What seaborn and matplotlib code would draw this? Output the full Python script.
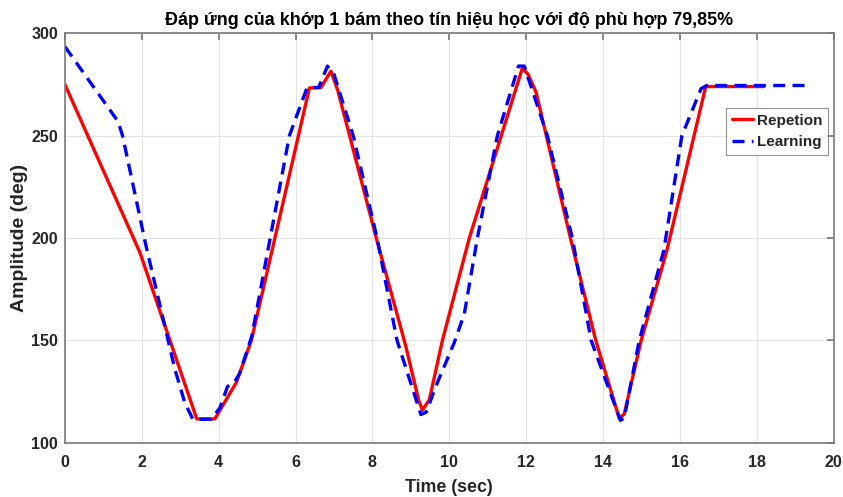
import numpy as np
import pandas as pd
import matplotlib
matplotlib.use("Agg")
import matplotlib.pyplot as plt
import seaborn as sns

# Repetion (red solid)
rep_t = [0, 1.95, 3.43, 3.9, 4.46, 4.85, 6.36, 6.66, 6.92, 7.1, 8.1, 8.87, 9.2, 9.3,
         9.48, 9.82, 10.52, 11.9, 12.05, 12.26, 13.15, 13.81, 14.42, 14.55, 14.99, 15.66,
         16.67, 18.18]
rep_y = [275, 193, 111.7, 111.7, 129.5, 150, 273.3, 273.5, 281.5, 272, 200, 147, 121, 116,
         121, 150, 200, 283, 280, 271, 200, 150, 112, 114, 150, 194,
         274, 274]

# Learning (blue dashed)
learn_t = [0, 1.38, 1.5, 2.1, 2.86, 3.12, 3.33, 3.8, 4.03, 4.23, 4.42, 4.55, 4.86, 5.84,
           6.3, 6.6, 6.83, 7.0, 7.5, 8.12, 8.64, 9.26, 9.4, 9.65, 10.13, 10.39, 10.73,
           11.25, 11.8, 11.95, 12.55, 13.2, 13.69, 14.45, 14.55, 14.94, 15.58, 16.05,
           16.55, 16.7, 19.4]
learn_y = [293.5, 257, 250, 197, 136, 119.5, 111.5, 111.5, 117, 127.5, 130, 134, 152, 250,
           273.5, 273.5, 284, 280, 250, 200, 150, 113.8, 115, 127.6, 149, 163, 200,
           250, 284, 284, 250, 200, 150, 111, 112, 150, 194, 250,
           273, 274.5, 274.5]

x_ticks = list(range(0, 21, 2))
y_ticks = [100, 150, 200, 250, 300]

sns.set_theme(style="whitegrid")
plt.rcParams['font.family'] = ['Liberation Sans', 'DejaVu Sans']
plt.rcParams.update({
    'axes.edgecolor': '#7a7a7a',
    'grid.color': '#e3e3e3',
    'grid.linewidth': 0.8,
    'xtick.direction': 'in',
    'ytick.direction': 'in',
    'xtick.top': True,
    'ytick.right': True,
    'xtick.major.size': 5,
    'ytick.major.size': 5,
    'xtick.color': '#7a7a7a',
    'ytick.color': '#7a7a7a',
    'xtick.labelcolor': '#262626',
    'ytick.labelcolor': '#262626',
})

fig = plt.figure(figsize=(8.43, 4.97), dpi=100)
ax = fig.add_axes([0.077, 0.109, 0.912, 0.824])

sns.lineplot(x=rep_t, y=rep_y, ax=ax, color='#ff0000', linewidth=2.4,
             estimator=None, label='Repetion')
sns.lineplot(x=learn_t, y=learn_y, ax=ax, color='#0000ff', linewidth=2.4,
             estimator=None, label='Learning')
ax.lines[1].set_dashes((3.6, 2.2))

ax.set_xlim(0, 20)
ax.set_ylim(100, 300)
ax.set_xticks(x_ticks)
ax.set_yticks(y_ticks)
ax.tick_params(labelsize=11.5)
ax.tick_params(axis='x', pad=9)
ax.tick_params(axis='y', pad=5)
for lab in ax.get_xticklabels() + ax.get_yticklabels():
    lab.set_fontweight('bold')
for s in ax.spines.values():
    s.set_linewidth(1.2)

ax.set_xlabel('Time (sec)', fontsize=12.8, fontweight='bold', color='#262626', labelpad=6)
ax.set_ylabel('Amplitude (deg)', fontsize=14, fontweight='bold', color='#262626', labelpad=2)
ax.set_title('Đáp ứng của khớp 1 bám theo tín hiệu học với độ phù hợp 79,85%',
             fontsize=12.9, fontweight='bold', color='#000000', pad=6)

leg = ax.legend(loc='upper right', bbox_to_anchor=(0.993, 0.817), fancybox=False,
                frameon=True, edgecolor='#7a7a7a', handlelength=1.4, handletextpad=0.3,
                borderpad=0.35, labelspacing=0.5, borderaxespad=0,
                prop={'weight': 'bold', 'size': 11})
leg.get_frame().set_linewidth(0.8)

fig.savefig('out.png', dpi=100)
